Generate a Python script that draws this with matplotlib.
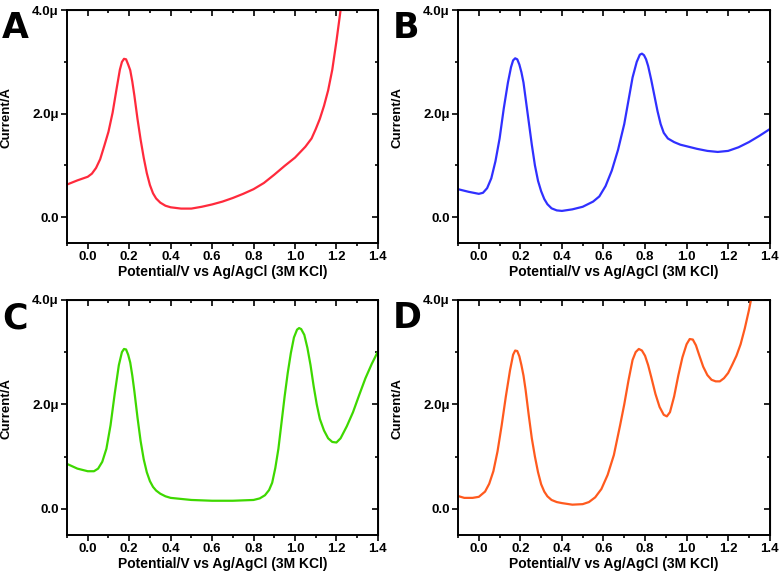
import matplotlib.pyplot as plt
from matplotlib.ticker import MultipleLocator

plt.rcParams['font.family'] = ['Liberation Sans', 'DejaVu Sans']
plt.rcParams['font.weight'] = 'bold'

# potentials (V) and currents (uA)
xa = [-0.1, -0.05, 0.0, 0.02, 0.04, 0.06, 0.08, 0.1, 0.12, 0.14, 0.155, 0.165, 0.175, 0.185, 0.195,
      0.205, 0.215, 0.225, 0.24, 0.255, 0.27, 0.285, 0.3, 0.315, 0.33, 0.35, 0.375, 0.4, 0.45, 0.5,
      0.55, 0.6, 0.65, 0.7, 0.75, 0.8, 0.85, 0.9, 0.95, 1.0, 1.05, 1.08, 1.1, 1.12, 1.14, 1.16,
      1.18, 1.2, 1.21, 1.22]
ya = [0.63, 0.71, 0.78, 0.84, 0.95, 1.12, 1.38, 1.65, 2.02, 2.5, 2.85, 3.0, 3.06, 3.05, 2.95,
      2.84, 2.62, 2.35, 1.9, 1.5, 1.15, 0.85, 0.62, 0.46, 0.36, 0.28, 0.22, 0.19, 0.165, 0.165,
      0.2, 0.245, 0.3, 0.37, 0.45, 0.54, 0.66, 0.82, 0.99, 1.15, 1.36, 1.52, 1.7, 1.9, 2.15, 2.45,
      2.85, 3.4, 3.7, 4.0]

xb = [-0.1, -0.05, 0.0, 0.02, 0.04, 0.06, 0.08, 0.1, 0.12, 0.14, 0.155, 0.165, 0.175, 0.185, 0.195,
      0.205, 0.215, 0.225, 0.24, 0.255, 0.27, 0.285, 0.3, 0.315, 0.33, 0.35, 0.375, 0.4, 0.45, 0.5,
      0.55, 0.58, 0.61, 0.64, 0.67, 0.7, 0.72, 0.74, 0.76, 0.775, 0.785, 0.795, 0.805, 0.815, 0.83,
      0.845, 0.86, 0.875, 0.89, 0.91, 0.94, 0.97, 1.0, 1.05, 1.1, 1.15, 1.2, 1.25, 1.3, 1.35, 1.4]
yb = [0.54, 0.49, 0.45, 0.47, 0.56, 0.75, 1.08, 1.52, 2.1, 2.6, 2.9, 3.03, 3.07, 3.05, 2.95,
      2.8, 2.6, 2.3, 1.85, 1.4, 1.0, 0.7, 0.5, 0.35, 0.25, 0.17, 0.13, 0.12, 0.15, 0.2,
      0.3, 0.4, 0.6, 0.9, 1.3, 1.8, 2.25, 2.7, 3.0, 3.14, 3.16, 3.13, 3.05, 2.92, 2.65,
      2.35, 2.05, 1.8, 1.63, 1.52, 1.45, 1.4, 1.37, 1.32, 1.28, 1.26, 1.28, 1.35, 1.45, 1.57, 1.70]

xc = [-0.1, -0.05, 0.0, 0.03, 0.05, 0.07, 0.09, 0.11, 0.13, 0.15, 0.165, 0.175, 0.185, 0.195, 0.205,
      0.215, 0.225, 0.24, 0.255, 0.27, 0.285, 0.3, 0.315, 0.33, 0.35, 0.375, 0.4, 0.5, 0.6, 0.7,
      0.8, 0.83, 0.855, 0.875, 0.89, 0.905, 0.92, 0.935, 0.95, 0.965, 0.98, 0.995, 1.01, 1.02, 1.03,
      1.045, 1.06, 1.075, 1.09, 1.105, 1.12, 1.14, 1.16, 1.18, 1.2, 1.22, 1.25, 1.28, 1.31, 1.34,
      1.37, 1.4]
yc = [0.86, 0.77, 0.72, 0.72, 0.77, 0.9, 1.15, 1.6, 2.2, 2.75, 3.0, 3.06, 3.05, 2.95, 2.8,
      2.55, 2.25, 1.75, 1.3, 0.95, 0.7, 0.53, 0.42, 0.35, 0.29, 0.24, 0.21, 0.17, 0.155, 0.155,
      0.17, 0.2, 0.26, 0.36, 0.5, 0.78, 1.15, 1.65, 2.15, 2.6, 2.98, 3.28, 3.43, 3.46, 3.44,
      3.33, 3.08, 2.75, 2.35, 2.0, 1.72, 1.5, 1.35, 1.28, 1.27, 1.35, 1.58, 1.85, 2.18, 2.5,
      2.77, 3.01]

xd = [-0.1, -0.07, -0.03, 0.0, 0.03, 0.05, 0.07, 0.09, 0.11, 0.13, 0.15, 0.165, 0.175, 0.185, 0.195,
      0.205, 0.215, 0.225, 0.24, 0.255, 0.27, 0.285, 0.3, 0.315, 0.33, 0.35, 0.375, 0.4, 0.45, 0.5,
      0.53, 0.56, 0.59, 0.62, 0.65, 0.68, 0.7, 0.72, 0.74, 0.755, 0.77, 0.785, 0.8, 0.815, 0.83,
      0.85, 0.87, 0.89, 0.905, 0.92, 0.94, 0.96, 0.98, 1.0, 1.015, 1.03, 1.045, 1.06, 1.08, 1.1,
      1.12, 1.14, 1.16, 1.18, 1.2, 1.22, 1.24, 1.26, 1.28, 1.3, 1.31]
yd = [0.245, 0.21, 0.21, 0.23, 0.33, 0.48, 0.72, 1.1, 1.6, 2.15, 2.65, 2.95, 3.03, 3.02, 2.92,
      2.75, 2.55, 2.28, 1.8, 1.35, 1.0, 0.7, 0.47, 0.33, 0.24, 0.17, 0.13, 0.11, 0.08, 0.09,
      0.13, 0.22, 0.38, 0.65, 1.03, 1.6, 2.0, 2.45, 2.85, 3.0, 3.06, 3.03, 2.93, 2.75, 2.52,
      2.2, 1.95, 1.8, 1.77, 1.85, 2.15, 2.55, 2.9, 3.15, 3.25, 3.24, 3.13, 2.95, 2.72, 2.56,
      2.47, 2.44, 2.44, 2.5, 2.6, 2.76, 2.93, 3.15, 3.45, 3.8, 4.0]

panels = [
    ('A', xa, ya, '#ff2a3c', [0.0856, 0.5825, 0.397, 0.400]),
    ('B', xb, yb, '#3030ff', [0.585, 0.5825, 0.398, 0.400]),
    ('C', xc, yc, '#3ed800', [0.0856, 0.0808, 0.397, 0.404]),
    ('D', xd, yd, '#ff5a1e', [0.585, 0.0808, 0.398, 0.404]),
]

fig = plt.figure(figsize=(7.83, 5.82), dpi=100)

for letter, x, y, col, pos in panels:
    ax = fig.add_axes(pos)
    ax.plot(x, y, color=col, lw=1.6, solid_joinstyle='round')
    ax.set_xlim(-0.1, 1.4)
    ax.set_ylim(-0.5, 4.0)
    ax.xaxis.set_major_locator(MultipleLocator(0.2))
    ax.xaxis.set_minor_locator(MultipleLocator(0.1))
    ax.set_yticks([0, 2, 4])
    ax.set_yticklabels(['0.0', '2.0\u03bc', '4.0\u03bc'])
    ax.yaxis.set_minor_locator(MultipleLocator(1))
    ax.set_xticklabels([f'{v:.1f}' for v in ax.get_xticks()])
    ax.tick_params(which='both', direction='out', width=1.2, labelsize=9.5, pad=2)
    ax.tick_params(which='major', length=4)
    ax.tick_params(which='minor', length=2.5)
    for s in ax.spines.values():
        s.set_linewidth(1.4)
    # mirrored ticks on top/right point inward
    sec_x = ax.secondary_xaxis('top')
    sec_x.set_xticks(ax.get_xticks())
    sec_x.xaxis.set_minor_locator(MultipleLocator(0.1))
    sec_x.tick_params(which='both', direction='in', labeltop=False, width=1.2)
    sec_x.tick_params(which='major', length=4)
    sec_x.tick_params(which='minor', length=2.5)
    sec_y = ax.secondary_yaxis('right')
    sec_y.set_yticks([0, 2, 4])
    sec_y.yaxis.set_minor_locator(MultipleLocator(1))
    sec_y.tick_params(which='both', direction='in', labelright=False, width=1.2)
    sec_y.tick_params(which='major', length=4)
    sec_y.tick_params(which='minor', length=2.5)
    ax.set_xlabel('Potential/V vs Ag/AgCl (3M KCl)', fontsize=10, fontweight='bold')
    ax.xaxis.set_label_coords(0.5, -0.094)
    ax.set_ylabel('Current/A', fontsize=9.5, fontweight='bold')
    ax.yaxis.set_label_coords(-0.174, 0.54)
    fig.text(pos[0] - 0.083, pos[1] + pos[3] - 0.002, letter, fontsize=25,
             family=['DejaVu Sans'], fontweight='bold', ha='left', va='top')

fig.savefig('out.png', dpi=100)
